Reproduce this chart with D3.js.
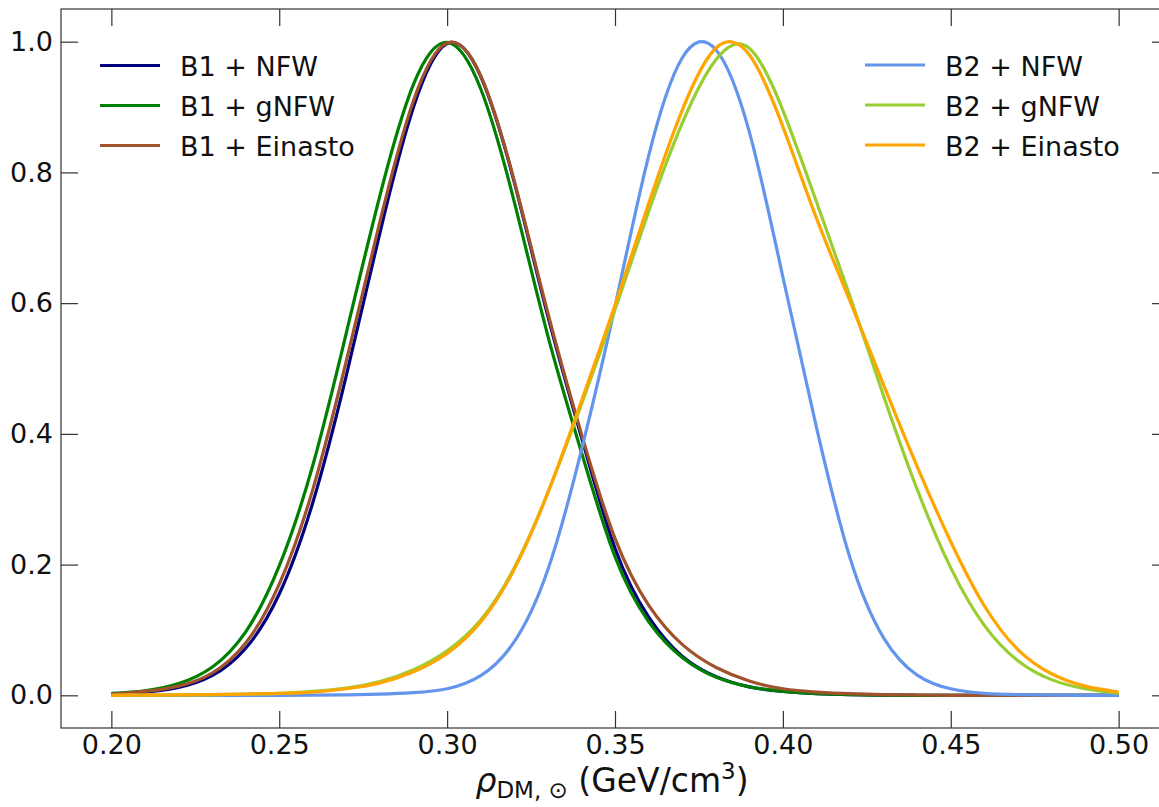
<!DOCTYPE html>
<html>
<head>
<meta charset="utf-8">
<script src="https://cdn.jsdelivr.net/npm/d3@7"></script>
<style>
  body { margin: 0; background: #fff; }
  svg { display: block; }
  text { font-family: "DejaVu Sans", sans-serif; fill: #111; }
</style>
</head>
<body>
<svg id="chart" width="1159" height="807"></svg>
<script>
// x grid (GeV/cm^3) shared by every curve
const xs = [0.20, 0.21, 0.22, 0.23, 0.24, 0.25, 0.26, 0.27, 0.28, 0.29, 0.30,
            0.31, 0.32, 0.33, 0.34, 0.35, 0.36, 0.37, 0.38, 0.39, 0.40,
            0.41, 0.42, 0.43, 0.44, 0.45, 0.46, 0.47, 0.48, 0.49, 0.50];

// normalised posteriors
const b1Nfw   = [0.002, 0.005, 0.012, 0.030, 0.072, 0.155, 0.295, 0.490, 0.708, 0.900, 0.997,
                 0.947, 0.785, 0.580, 0.395, 0.225, 0.120, 0.060, 0.029, 0.013, 0.006,
                 0.0025, 0.001, 0.0004, 0, 0, 0, 0, 0, 0, 0];
const b1Gnfw  = [0.003, 0.007, 0.018, 0.043, 0.097, 0.198, 0.352, 0.555, 0.765, 0.935, 0.999,
                 0.928, 0.755, 0.550, 0.372, 0.212, 0.113, 0.058, 0.028, 0.013, 0.006,
                 0.0025, 0.001, 0.0004, 0, 0, 0, 0, 0, 0, 0];
const b1Ein   = [0.002, 0.006, 0.014, 0.034, 0.080, 0.170, 0.315, 0.512, 0.725, 0.910, 0.998,
                 0.948, 0.787, 0.585, 0.400, 0.240, 0.138, 0.078, 0.043, 0.022, 0.010,
                 0.005, 0.0025, 0.0012, 0.0005, 0, 0, 0, 0, 0, 0];
const b2Nfw   = [0, 0, 0, 0, 0, 0, 0.0003, 0.0008, 0.0018, 0.004, 0.010,
                 0.030, 0.082, 0.192, 0.375, 0.595, 0.825, 0.975, 0.988, 0.862, 0.640,
                 0.410, 0.210, 0.088, 0.031, 0.010, 0.003, 0.001, 0.0003, 0, 0];
const b2Gnfw  = [0, 0.0003, 0.0006, 0.001, 0.002, 0.003, 0.006, 0.011, 0.021, 0.039, 0.068,
                 0.115, 0.195, 0.310, 0.445, 0.590, 0.740, 0.875, 0.972, 0.990, 0.895,
                 0.755, 0.610, 0.458, 0.315, 0.195, 0.107, 0.053, 0.024, 0.010, 0.003];
const b2Ein   = [0, 0.0003, 0.0006, 0.001, 0.0018, 0.003, 0.005, 0.010, 0.019, 0.036, 0.064,
                 0.112, 0.193, 0.310, 0.450, 0.597, 0.752, 0.895, 0.990, 0.980, 0.870,
                 0.730, 0.603, 0.475, 0.350, 0.235, 0.137, 0.070, 0.033, 0.014, 0.005];

const xTicks = [0.20, 0.25, 0.30, 0.35, 0.40, 0.45, 0.50];
const yTicks = [0.0, 0.2, 0.4, 0.6, 0.8, 1.0];

const series = [
  { name: "B1 + NFW",     values: b1Nfw,  color: "#000080" },
  { name: "B1 + gNFW",    values: b1Gnfw, color: "#008000" },
  { name: "B1 + Einasto", values: b1Ein,  color: "#a0522d" },
  { name: "B2 + NFW",     values: b2Nfw,  color: "#6495ed" },
  { name: "B2 + gNFW",    values: b2Gnfw, color: "#9acd32" },
  { name: "B2 + Einasto", values: b2Ein,  color: "#ffa500" }
];

const svg = d3.select("#chart");
const padL = 61, padR = 1169, padT = 9, padB = 728;

const x = d3.scaleLinear().domain([0.185, 0.515]).range([padL, padR]);
const y = d3.scaleLinear().domain([-0.05, 1.05]).range([padB, padT]);

const tick = 17;
const fs = 27;

// bottom axis
const gx = svg.append("g").attr("transform", `translate(0,${padB})`)
  .call(d3.axisBottom(x).tickValues(xTicks).tickFormat(d3.format(".2f"))
    .tickSizeInner(-tick).tickSizeOuter(0).tickPadding(7));
// left axis
const gy = svg.append("g").attr("transform", `translate(${padL},0)`)
  .call(d3.axisLeft(y).tickValues(yTicks).tickFormat(d3.format(".1f"))
    .tickSizeInner(-tick).tickSizeOuter(0).tickPadding(8));
// top / right ticks, no labels
const gt = svg.append("g").attr("transform", `translate(0,${padT})`)
  .call(d3.axisTop(x).tickValues(xTicks).tickFormat("")
    .tickSizeInner(-tick).tickSizeOuter(0));
const gr = svg.append("g").attr("transform", `translate(${padR},0)`)
  .call(d3.axisRight(y).tickValues(yTicks).tickFormat("")
    .tickSizeInner(-tick).tickSizeOuter(0));

[gx, gy, gt, gr].forEach(g => {
  g.select(".domain").remove();
  g.selectAll(".tick line").attr("stroke", "#333").attr("stroke-width", 1.2);
  g.selectAll(".tick text").attr("font-size", fs).attr("fill", "#111")
    .attr("font-family", "DejaVu Sans");
});

// frame
svg.append("rect")
  .attr("x", padL).attr("y", padT)
  .attr("width", padR - padL).attr("height", padB - padT)
  .attr("fill", "none").attr("stroke", "#333").attr("stroke-width", 1.2);

// curves
const line = d3.line()
  .x((d, i) => x(xs[i]))
  .y(d => y(d))
  .curve(d3.curveNatural);

svg.append("g").selectAll("path")
  .data(series)
  .join("path")
  .attr("d", s => line(s.values))
  .attr("fill", "none")
  .attr("stroke", s => s.color)
  .attr("stroke-width", 3.2)
  .attr("stroke-linejoin", "round");

// legends
function legend(items, x0, y0) {
  const g = svg.append("g");
  items.forEach((s, i) => {
    const yy = y0 + i * 40;
    g.append("line")
      .attr("x1", x0).attr("x2", x0 + 60)
      .attr("y1", yy).attr("y2", yy)
      .attr("stroke", s.color).attr("stroke-width", 3.2);
    g.append("text")
      .attr("x", x0 + 80).attr("y", yy + 10.5)
      .attr("font-size", fs)
      .text(s.name);
  });
}
legend(series.slice(0, 3), 100, 65.5);
legend(series.slice(3), 865, 65);

// x label: rho_{DM, sun} (GeV/cm^3)
const lab = svg.append("text")
  .attr("x", 612).attr("y", 792)
  .attr("text-anchor", "middle")
  .attr("font-size", 33);
lab.append("tspan").attr("font-style", "italic").text("ρ");
lab.append("tspan").attr("font-size", 23).attr("dy", 6).text("DM, ⊙");
lab.append("tspan").attr("dy", -6).text(" (GeV/cm");
lab.append("tspan").attr("font-size", 23).attr("dy", -13).text("3");
lab.append("tspan").attr("dy", 13).text(")");
</script>
</body>
</html>
